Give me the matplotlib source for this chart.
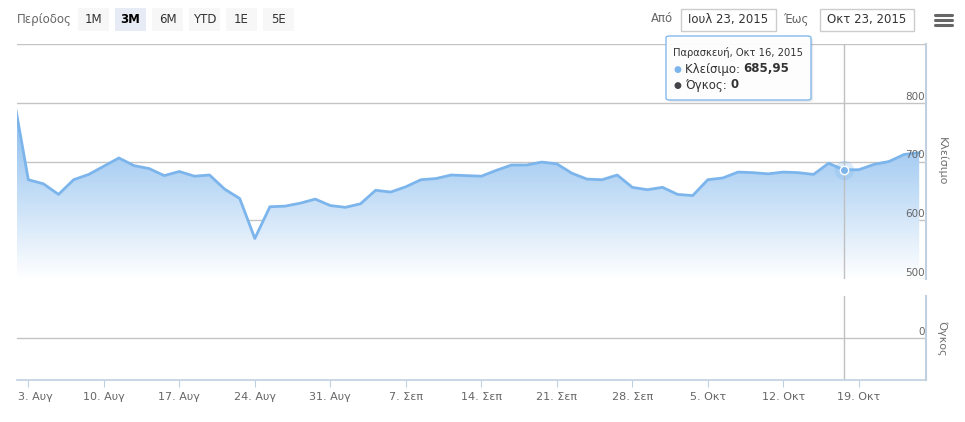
import numpy as np
import pandas as pd
import matplotlib
matplotlib.use("Agg")
import matplotlib.pyplot as plt
import matplotlib.transforms as mtransforms
from matplotlib.patches import Rectangle, FancyBboxPatch
from matplotlib.lines import Line2D

plt.rcParams["font.family"] = ["DejaVu Sans"]

# trading days shown on the ordinal axis (market closed before 3 Aug 2015)
dates = [pd.Timestamp("2015-06-26")] + list(pd.bdate_range("2015-08-03", "2015-10-23"))
close = [814, 669, 662, 644, 669, 678, 692, 706, 693, 688,
         676, 683, 675, 677, 653, 637, 569, 623, 624, 629,
         636, 625, 622, 628, 651, 648, 657, 669, 671, 677,
         676, 675, 685, 694, 694, 699, 696, 680, 670, 669,
         677, 656, 652, 656, 644, 642, 669, 672, 682, 681,
         679, 682, 681, 678, 697, 685.95, 686, 695, 700, 712, 715]
volume = [0] * len(close)
close_ticks = [500, 600, 700, 800]
greek_months = {8: "Αυγ", 9: "Σεπ", 10: "Οκτ"}
range_buttons = ["1M", "3M", "6M", "YTD", "1E", "5E"]
date_from = "Ιουλ 23, 2015"
date_to = "Οκτ 23, 2015"
hover_idx = 55
hover_day = "Παρασκευή, Οκτ 16, 2015"

W, H = 965, 422
blue = "#7cb5ec"
axis_blue = "#C0D0E0"
grid = "#C4C4C4"
label_col = "#666666"


def fx(px):
    return px / W


def fy(py):
    return 1 - py / H


fig = plt.figure(figsize=(W / 100, H / 100), dpi=100)
ax = fig.add_axes([fx(17), fy(279), fx(909), 235 / H])
axv = fig.add_axes([fx(17), fy(380), fx(909), 84 / H])

x = np.arange(len(close))
xmin, xmax = 0.25, 60.45

# area with vertical gradient (object bounding box, like the svg fill)
fill = ax.fill_between(x, close, 500, facecolor="none", edgecolor="none")
top = max(close)
c0 = np.array(matplotlib.colors.to_rgb(blue))
a = np.linspace(1, 0, 256)[:, None]
img = (1 - a) * np.ones(3) + a * c0
img = img[:, None, :]
im = ax.imshow(img, extent=[0, len(close) - 1, 500, top], aspect="auto",
               origin="upper", zorder=1, interpolation="bilinear")
im.set_clip_path(fill.get_paths()[0], transform=ax.transData)
ax.plot(x, close, color=blue, lw=2, zorder=3, solid_joinstyle="round")

ax.set_xlim(xmin, xmax)
ax.set_ylim(500, 900)
ax.set_yticks([500, 600, 700, 800, 900])
ax.grid(axis="y", color=grid, lw=1)
ax.set_axisbelow(True)
ax.tick_params(length=0, labelleft=False, labelbottom=False)
for s in ax.spines.values():
    s.set_visible(False)

lab_tr = mtransforms.blended_transform_factory(ax.transAxes, ax.transData)
off = mtransforms.ScaledTranslation(-1 / 100, 1 / 100, fig.dpi_scale_trans)
for v in close_ticks:
    ax.text(1, v, str(v), transform=lab_tr + off, ha="right", va="bottom",
            fontsize=7.5, color=label_col)

# crosshair + hover marker
ax.axvline(hover_idx, color="#C0C0C0", lw=1, zorder=2)
ax.plot(hover_idx, close[hover_idx], "o", ms=14, color=blue, alpha=0.25, mew=0, zorder=4)
ax.plot(hover_idx, close[hover_idx], "o", ms=6, mfc=blue, mec="white", mew=1, zorder=5)

# volume pane
axv.bar(x, volume, width=0.6, color="#434348")
axv.set_xlim(xmin, xmax)
axv.set_ylim(-1, 1)
axv.set_yticks([0])
axv.grid(axis="y", color=grid, lw=1)
axv.tick_params(axis="y", length=0, labelleft=False)
for k, s in axv.spines.items():
    s.set_visible(k == "bottom")
axv.spines["bottom"].set_color(axis_blue)
axv.spines["bottom"].set_linewidth(1.2)
axv.axvline(hover_idx, color="#C0C0C0", lw=1)
vlab_tr = mtransforms.blended_transform_factory(axv.transAxes, axv.transData)
axv.text(1, 0, "0", transform=vlab_tr + off, ha="right", va="bottom",
         fontsize=7.5, color=label_col)

mondays = [i for i, d in enumerate(dates) if d.weekday() == 0 and i > 0]
axv.set_xticks(mondays)
axv.set_xticklabels([f"{dates[i].day}. {greek_months[dates[i].month]}" for i in mondays])
axv.tick_params(axis="x", length=5, color=axis_blue, labelsize=8, labelcolor=label_col, pad=4)
first = axv.get_xticklabels()[0]
first.set_horizontalalignment("left")
first.set_transform(first.get_transform() +
                    mtransforms.ScaledTranslation(-10 / 100, 0, fig.dpi_scale_trans))

# right axis lines and titles
fig.add_artist(Line2D([fx(926)] * 2, [fy(44), fy(279)], color=axis_blue, lw=1.5))
fig.add_artist(Line2D([fx(926)] * 2, [fy(296), fy(380)], color=axis_blue, lw=1.5))
fig.text(fx(942), fy(161), "Κλείσιμο", rotation=-90, ha="center", va="center",
         fontsize=8, color="#707070")
fig.text(fx(942), fy(338), "Όγκος", rotation=-90, ha="center", va="center",
         fontsize=8, color="#707070")

# range selector
fig.text(fx(17), fy(19), "Περίοδος", fontsize=8.5, color="#666666", va="center")
for k, b in enumerate(range_buttons):
    x0 = 78 + 37 * k
    sel = b == "3M"
    fig.add_artist(Rectangle((fx(x0), fy(31)), fx(31), 23 / H, transform=fig.transFigure,
                             fc="#e6ebf5" if sel else "#f7f7f7", ec="none"))
    fig.text(fx(x0 + 15.5), fy(19.5), b, ha="center", va="center", fontsize=8.5,
             color="#000000" if sel else "#333333", fontweight="bold" if sel else "normal")

fig.text(fx(673), fy(19), "Από", ha="right", va="center", fontsize=8.5, color="#666666")
fig.text(fx(809), fy(19), "Έως", ha="right", va="center", fontsize=8.5, color="#666666")
for x0, x1, t in [(681, 776, date_from), (820, 914, date_to)]:
    fig.add_artist(Rectangle((fx(x0), fy(31)), fx(x1 - x0), 22 / H, transform=fig.transFigure,
                             fc="white", ec="#cccccc", lw=1))
    fig.text(fx((x0 + x1) / 2), fy(20), t, ha="center", va="center", fontsize=8.5, color="#333333")

for yy in [15, 20, 25]:
    fig.add_artist(Line2D([fx(935), fx(952)], [fy(yy)] * 2, color="#666666", lw=2.2,
                          solid_capstyle="round"))

# tooltip
fig.add_artist(FancyBboxPatch((fx(668), fy(102)), fx(145), 64 / H,
                              boxstyle="round,pad=0,rounding_size=0.004",
                              transform=fig.transFigure, fc="#000000", ec="none", alpha=0.08))
fig.add_artist(FancyBboxPatch((fx(666), fy(100)), fx(145), 64 / H,
                              boxstyle="round,pad=0,rounding_size=0.004",
                              transform=fig.transFigure, fc="white", ec=blue, lw=1, alpha=0.95))
fig.text(fx(673), fy(53), hover_day, fontsize=7.2, color="#333333", va="center")
fig.text(fx(673), fy(69.5), "●", fontsize=6.5, color=blue, va="center")
t1 = fig.text(fx(685), fy(69), "Κλείσιμο: ", fontsize=8.5, color="#333333", va="center")
fig.text(fx(673), fy(85.5), "●", fontsize=6.5, color="#434348", va="center")
t2 = fig.text(fx(685), fy(85), "Όγκος: ", fontsize=8.5, color="#333333", va="center")
fig.canvas.draw()
for t, val in [(t1, f"{close[hover_idx]:.2f}".replace(".", ",")), (t2, str(volume[hover_idx]))]:
    bb = t.get_window_extent()
    fig.text(bb.x1 / W, t.get_position()[1], val, fontsize=8.5, color="#333333",
             va="center", fontweight="bold")

fig.savefig("out.png", dpi=100)
